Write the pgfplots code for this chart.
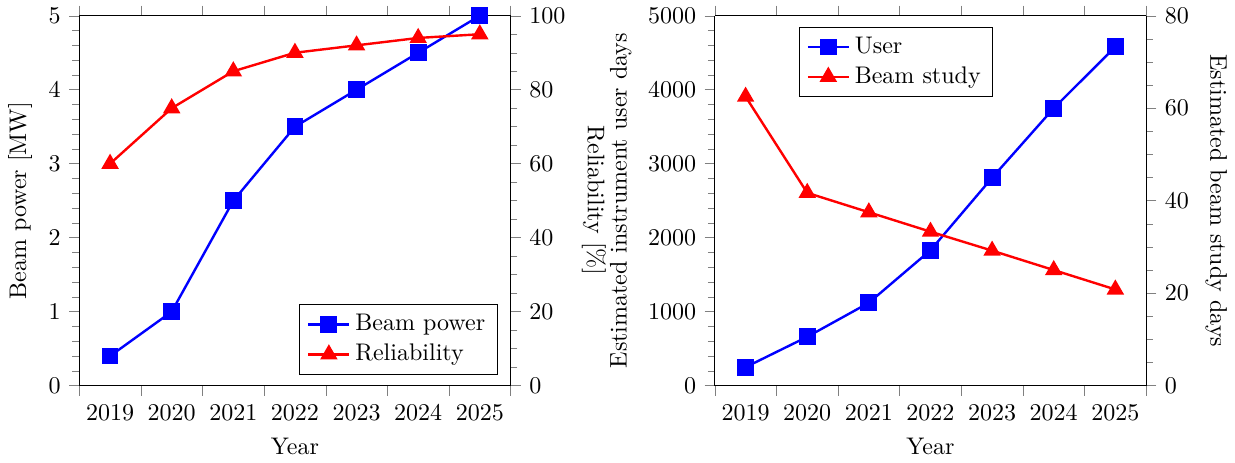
\documentclass[border=0pt]{standalone}
\usepackage{pgfplots}
\pgfplotsset{compat=1.18}
\begin{document}
\begin{tikzpicture}
\pgfplotsset{
  myx/.style={scale only axis, width=179.6pt, height=154pt,
    xmin=2018.5, xmax=2025.5,
    xtick={2018.5,2019.5,2020.5,2021.5,2022.5,2023.5,2024.5,2025.5},
    xticklabels={2019,2020,2021,2022,2023,2024,2025},
    x tick label as interval, tick align=outside, xlabel={Year},
    /pgf/number format/1000 sep={},
    legend cell align=left},
  myr/.style={axis y line*=right, axis x line=none, ylabel near ticks, yticklabel pos=right,
    ylabel style={rotate=180}},
  bl/.style={blue, line width=1pt, mark=square*, mark size=3pt},
  rd/.style={red, line width=1pt, mark=triangle*, mark size=3.2pt},
}
\begin{axis}[myx, axis y line*=left, ymin=0, ymax=5, ytick={0,1,2,3,4,5}, minor y tick num=4,
  ylabel={Beam power [MW]}]
\addplot[bl] coordinates {(2019,0.4) (2020,1.0) (2021,2.5) (2022,3.5) (2023,4.0) (2024,4.5) (2025,5.0)};
\end{axis}
\begin{axis}[myx, myr, ymin=0, ymax=100, ytick={0,20,40,60,80,100}, minor y tick num=3,
  ylabel={Reliability [\%]},
  legend style={at={(0.97,0.03)}, anchor=south east}]
\addlegendimage{bl}
\addlegendentry{Beam power}
\addplot[rd] coordinates {(2019,60) (2020,75) (2021,85) (2022,90) (2023,92) (2024,94) (2025,95)};
\addlegendentry{Reliability}
\end{axis}

\begin{scope}[xshift=264.6pt]
\begin{axis}[myx, axis y line*=left, ymin=0, ymax=5000, ytick={0,1000,2000,3000,4000,5000}, minor y tick num=4,
  ylabel={Estimated instrument user days}]
\addplot[bl] coordinates {(2019,250) (2020,660) (2021,1120) (2022,1830) (2023,2810) (2024,3750) (2025,4580)};
\end{axis}
\begin{axis}[myx, myr, ymin=0, ymax=80, ytick={0,20,40,60,80}, minor y tick num=3,
  ylabel={Estimated beam study days},
  legend style={at={(0.195,0.97)}, anchor=north west}]
\addlegendimage{bl}
\addlegendentry{User}
\addplot[rd] coordinates {(2019,62.5) (2020,41.7) (2021,37.5) (2022,33.3) (2023,29.2) (2024,25.0) (2025,20.8)};
\addlegendentry{Beam study}
\end{axis}
\end{scope}
\end{tikzpicture}
\end{document}
